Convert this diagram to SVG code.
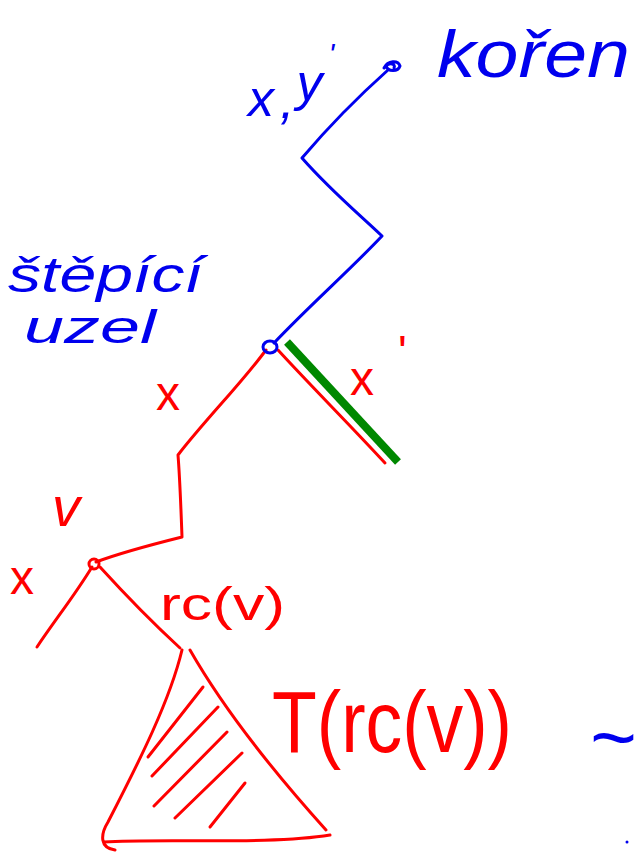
<svg xmlns="http://www.w3.org/2000/svg" width="639" height="854" viewBox="0 0 639 854">
<style>
.b{fill:none;stroke:#0000ee;stroke-width:3;stroke-linecap:round;stroke-linejoin:round}
.r{fill:none;stroke:#ff0000;stroke-width:3;stroke-linecap:round;stroke-linejoin:round}
.g{fill:none;stroke:#008800;stroke-width:8;stroke-linecap:butt}
.tb{fill:#0000ee;font-family:"Liberation Sans",sans-serif;font-style:italic}
.tr{fill:#ff0000;font-family:"Liberation Sans",sans-serif}
</style>
<rect width="639" height="854" fill="#ffffff"/>
<g id="connectors">
<path class="b" d="M274,343 C310,305 350,270 382,236 C360,215 330,190 302,158 C330,125 360,95 388,70"/>
<path class="r" d="M266,350 C240,385 205,420 178,455 C180,480 181,510 182,537 C150,545 120,553 96,562"/>
<path class="r" d="M278,350 C310,385 350,425 385,463"/>
<path class="g" d="M287,342 L398,462"/>
<path class="r" d="M92,567 C75,595 55,620 37,647"/>
<path class="r" d="M100,567 C130,600 155,625 180,648"/>
</g>
<g id="root">
<path class="b" d="M384,68 C388,60 398,60 400,66 C398,72 388,72 386,66 C390,62 396,64 394,68"/>
<text class="tb" x="437" y="77" font-size="66" textLength="193" lengthAdjust="spacingAndGlyphs">kořen</text>
</g>
<g id="root-label">
<text class="tb" x="248" y="116" font-size="52">x<tspan dx="6" dy="2">,</tspan><tspan dx="2" dy="-18">y</tspan><tspan dx="6" dy="-36" font-size="30">'</tspan></text>
</g>
<g id="split-node">
<ellipse cx="270" cy="347" rx="7" ry="6" class="b"/>
<text class="tb" x="8" y="292" font-size="50" textLength="195" lengthAdjust="spacingAndGlyphs">štěpící</text>
<text class="tb" x="24" y="343" font-size="46" textLength="132" lengthAdjust="spacingAndGlyphs">uzel</text>
</g>
<g id="x-left">
<text class="tr" x="156" y="410" font-size="48">x</text>
</g>
<g id="x-right">
<text class="tr" x="350" y="395" font-size="48">x<tspan dx="24" dy="-27" font-size="46">'</tspan></text>
</g>
<g id="node-v">
<circle cx="94" cy="564" r="5" class="r"/>
<text class="tr" x="52" y="526" font-size="56" font-style="italic">v</text>
<text class="tr" x="10" y="594" font-size="48">x</text>
<text class="tr" x="160" y="620" font-size="46" textLength="125" lengthAdjust="spacingAndGlyphs">rc(v)</text>
</g>
<g id="subtree">
<path class="r" d="M182,650 C170,700 140,760 108,822 C100,835 100,848 115,850"/>
<path class="r" d="M104,842 C160,838 270,845 330,835"/>
<path class="r" d="M190,650 C230,720 290,790 326,830"/>
<path class="r" d="M203,687 L148,757"/>
<path class="r" d="M218,707 L152,776"/>
<path class="r" d="M227,732 L154,806"/>
<path class="r" d="M242,753 L175,818"/>
<path class="r" d="M245,783 L210,827"/>
<text class="tr" x="272" y="752" font-size="88" textLength="240" lengthAdjust="spacingAndGlyphs">T(rc(v))</text>
</g>
<g id="tilde">
<text class="tb" x="589" y="765" font-size="80" font-style="normal">~</text>
<circle cx="627" cy="842" r="1.5" fill="#0000ee"/>
</g>
</svg>
